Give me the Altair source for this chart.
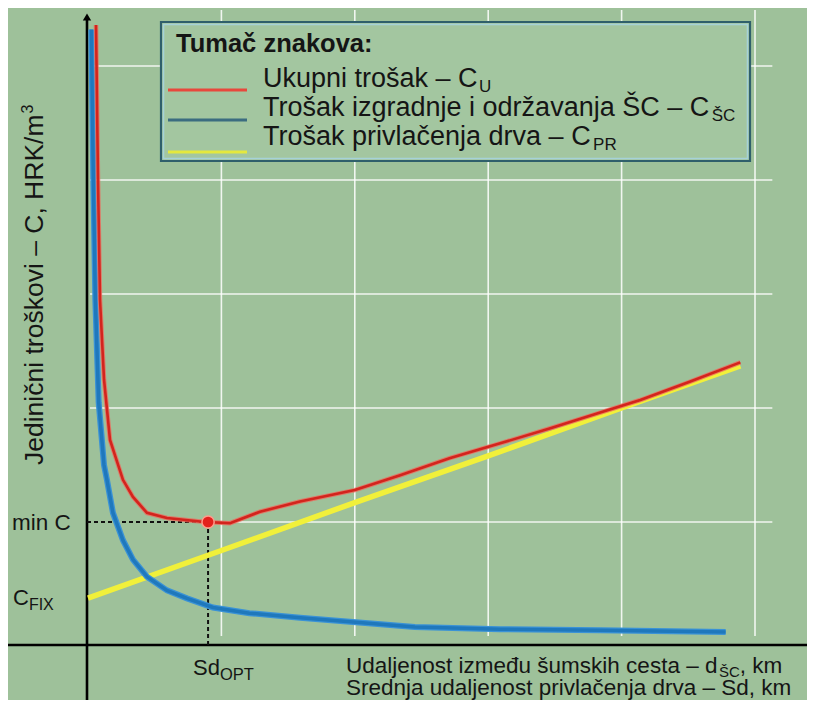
import altair as alt
import pandas as pd

# ---------------- data ----------------
# Trošak privlačenja drva - C_PR (straight line)
cpr_x = [0.0, 1.0, 2.0, 3.0, 4.0, 4.89]
cpr_y = [0.333, 0.75, 1.17, 1.58, 2.0, 2.37]

# Trošak izgradnje i održavanja ŠC - C_ŠC
csc_x = [0.025, 0.04, 0.055, 0.08, 0.12, 0.142, 0.187, 0.262, 0.337, 0.442,
         0.592, 0.742, 0.937, 1.21, 1.59, 2.45, 3.09, 3.84, 4.78]
csc_y = [5.32, 4.0, 2.95, 2.05, 1.5, 1.37, 1.08, 0.84, 0.67, 0.52,
         0.40, 0.33, 0.25, 0.20, 0.16, 0.08, 0.06, 0.05, 0.035]

# Ukupni trošak - C_U
cu_x = [0.06, 0.075, 0.09, 0.12, 0.165, 0.262, 0.337, 0.442, 0.592, 0.877,
        1.064, 1.289, 1.589, 2.0, 2.34, 2.71, 3.09, 3.46, 3.84, 4.14, 4.51, 4.89]
cu_y = [5.36, 4.0, 2.95, 2.25, 1.72, 1.37, 1.22, 1.08, 1.035, 1.0,
        0.99, 1.09, 1.18, 1.28, 1.41, 1.56, 1.69, 1.82, 1.96, 2.07, 2.23, 2.40]

# optimum
opt_x = [0.9]
opt_y = [1.0]

grid_x = [1, 2, 3, 4, 5]
grid_y = [1, 2, 3, 4, 5]

legend_title = "Tumač znakova:"
legend_main = ["Ukupni trošak – C", "Trošak izgradnje i održavanja ŠC – C", "Trošak privlačenja drva – C"]
legend_sub = ["U", "ŠC", "PR"]
legend_colors = ["#e8483c", "#3b6c80", "#e4e83e"]

ytitle_main = "Jedinični troškovi – C, HRK/m"
ytitle_sup = "3"
xtitle1 = ["Udaljenost između šumskih cesta – d", "ŠC", ", km"]
xtitle2 = "Srednja udaljenost privlačenja drva – Sd, km"

# ---------------- layout ----------------
W, H = 799, 692
OFF = 8
X0_PX, X_UNIT = 88.0, 133.4
Y0_PX, Y_UNIT = 636.0, 114.0
xdom = [(OFF - X0_PX) / X_UNIT, (OFF + W - X0_PX) / X_UNIT]
ydom = [(Y0_PX - OFF - H) / Y_UNIT, (Y0_PX - OFF) / Y_UNIT]


def dx(px):
    return (px - X0_PX) / X_UNIT


def dy(py):
    return (Y0_PX - py) / Y_UNIT


# Arial / Liberation Sans advance widths (1/1000 em)
AW = {' ': 278, ',': 278, ':': 278, '/': 278, '–': 556, '3': 556,
      'A': 667, 'B': 667, 'C': 722, 'D': 722, 'E': 667, 'F': 611, 'G': 778, 'H': 722,
      'I': 278, 'J': 500, 'K': 667, 'L': 556, 'M': 833, 'N': 722, 'O': 778, 'P': 667,
      'Q': 778, 'R': 722, 'S': 667, 'T': 611, 'U': 722, 'V': 667, 'W': 944, 'X': 667,
      'Y': 667, 'Z': 611, 'Š': 667,
      'a': 556, 'b': 556, 'c': 500, 'd': 556, 'e': 556, 'f': 278, 'g': 556, 'h': 556,
      'i': 222, 'j': 222, 'k': 500, 'l': 222, 'm': 833, 'n': 556, 'o': 556, 'p': 556,
      'q': 556, 'r': 333, 's': 500, 't': 278, 'u': 556, 'v': 500, 'w': 722, 'x': 500,
      'y': 500, 'z': 500, 'š': 500, 'č': 500, 'ž': 500, 'đ': 556}


def tw(s, size):
    return sum(AW.get(c, 556) for c in s) / 1000.0 * size


FONT = "Liberation Sans, Arial, Helvetica, sans-serif"
BG = "#9ec19a"

XS = alt.Scale(domain=xdom, nice=False, zero=False)
YS = alt.Scale(domain=ydom, nice=False, zero=False)


def X(f):
    return alt.X(f, type="quantitative", scale=XS, axis=None)


def Y(f):
    return alt.Y(f, type="quantitative", scale=YS, axis=None)


def text_layer(rows, **kw):
    df = pd.DataFrame(rows, columns=["t", "x", "y"])
    props = dict(align="left", baseline="alphabetic", font=FONT, color="#151515")
    props.update(kw)
    return alt.Chart(df).mark_text(**props).encode(x=X("x"), y=Y("y"), text="t:N")


layers = []

# grid (white)
gv = pd.DataFrame({"x": grid_x, "y": 0.0, "y2": dy(10)})
layers.append(alt.Chart(gv).mark_rule(color="white", strokeWidth=1.6, opacity=0.85).encode(
    x=X("x"), y=Y("y"), y2="y2"))
gh = pd.DataFrame({"y": grid_y, "x": [1.0 if g == 1 else 0.015 for g in grid_y], "x2": 5.13})
layers.append(alt.Chart(gh).mark_rule(color="white", strokeWidth=1.6, opacity=0.85).encode(
    y=Y("y"), x=X("x"), x2="x2"))

# legend box
box = pd.DataFrame({"x": [dx(161)], "x2": [dx(750)], "y": [dy(22)], "y2": [dy(161)]})
layers.append(alt.Chart(box).mark_rect(fill="#a3c6a0", stroke="#2f5f6b", strokeWidth=2.2).encode(
    x=X("x"), x2="x2", y=Y("y"), y2="y2"))
box_in = pd.DataFrame({"x": [dx(163.5)], "x2": [dx(747.5)], "y": [dy(24.5)], "y2": [dy(158.5)]})
layers.append(alt.Chart(box_in).mark_rect(fill=None, stroke="#a6d2d8", strokeWidth=1.6).encode(
    x=X("x"), x2="x2", y=Y("y"), y2="y2"))

# legend sample lines
leg_y_px = [90, 120, 152]
for col, ly in zip(legend_colors, leg_y_px):
    d = pd.DataFrame({"x": [dx(168)], "x2": [dx(247)], "y": [dy(ly)]})
    layers.append(alt.Chart(d).mark_rule(color=col, strokeWidth=3.2).encode(
        x=X("x"), x2="x2", y=Y("y")))

# legend texts
LEG_SIZE, LEG_SUB = 27, 17
layers.append(text_layer([(legend_title, dx(176), dy(52))], fontSize=25.5, fontWeight="bold"))
base_px = [87, 116, 145]
main_rows, sub_rows = [], []
for m, s, b in zip(legend_main, legend_sub, base_px):
    main_rows.append((m, dx(263), dy(b)))
    sub_rows.append((s, dx(263 + tw(m, LEG_SIZE) + 1.5), dy(b + 5)))
layers.append(text_layer(main_rows, fontSize=LEG_SIZE))
layers.append(text_layer(sub_rows, fontSize=LEG_SUB))

# black axes
ax_h = pd.DataFrame({"x": [xdom[0]], "x2": [xdom[1]], "y": [dy(645)]})
layers.append(alt.Chart(ax_h).mark_rule(color="black", strokeWidth=2.6).encode(
    x=X("x"), x2="x2", y=Y("y")))
ax_v = pd.DataFrame({"x": [dx(87)], "y": [ydom[0]], "y2": [dy(18)]})
layers.append(alt.Chart(ax_v).mark_rule(color="black", strokeWidth=2.6).encode(
    x=X("x"), y=Y("y"), y2="y2"))
arrow = pd.DataFrame({"x": [dx(87)], "y": [dy(17)]})
layers.append(alt.Chart(arrow).mark_point(shape="triangle-up", filled=True, size=70,
                                          color="black", opacity=1).encode(x=X("x"), y=Y("y")))

# dashed guide lines to the optimum
dh = pd.DataFrame({"x": [dx(87)], "x2": opt_x, "y": opt_y})
layers.append(alt.Chart(dh).mark_rule(color="#111", strokeWidth=2, strokeDash=[4, 3]).encode(
    x=X("x"), x2="x2", y=Y("y")))
dv = pd.DataFrame({"x": opt_x, "y": opt_y, "y2": [dy(645)]})
layers.append(alt.Chart(dv).mark_rule(color="#111", strokeWidth=2, strokeDash=[4, 3]).encode(
    x=X("x"), y=Y("y"), y2="y2"))

# curves
cpr = pd.DataFrame({"x": cpr_x, "y": cpr_y})
layers.append(alt.Chart(cpr).mark_line(color="#f1f03a", strokeWidth=5.5).encode(x=X("x"), y=Y("y")))
csc = pd.DataFrame({"x": csc_x, "y": csc_y})
layers.append(alt.Chart(csc).mark_line(color="#3a92d6", strokeWidth=6).encode(x=X("x"), y=Y("y")))
layers.append(alt.Chart(csc).mark_line(color="#1f78bc", strokeWidth=3.5).encode(x=X("x"), y=Y("y")))
cu = pd.DataFrame({"x": cu_x, "y": cu_y})
layers.append(alt.Chart(cu).mark_line(color="#ec6a5c", strokeWidth=4.5, opacity=0.8).encode(x=X("x"), y=Y("y")))
layers.append(alt.Chart(cu).mark_line(color="#d3241d", strokeWidth=2.6).encode(x=X("x"), y=Y("y")))

# optimum marker
opt = pd.DataFrame({"x": opt_x, "y": opt_y})
layers.append(alt.Chart(opt).mark_point(shape="circle", filled=True, size=150, color="#e3201c",
                                        stroke="#ff9a8a", strokeWidth=1.5, opacity=1).encode(
    x=X("x"), y=Y("y")))

# annotations
layers.append(text_layer([("min C", dx(12), dy(530))], fontSize=22.5))
layers.append(text_layer([("C", dx(13), dy(605))], fontSize=22))
layers.append(text_layer([("FIX", dx(13 + tw("C", 22)), dy(610))], fontSize=16))
layers.append(text_layer([("Sd", dx(193), dy(675))], fontSize=22))
layers.append(text_layer([("OPT", dx(193 + tw("Sd", 22)), dy(680))], fontSize=16.5))

# x titles
XT, XT_SUB = 22.5, 15
x1 = 346
p1 = x1 + tw(xtitle1[0], XT) + 1.5
p2 = p1 + tw(xtitle1[1], XT_SUB)
layers.append(text_layer([(xtitle1[0], dx(x1), dy(673)), (xtitle1[2], dx(p2), dy(673))], fontSize=XT))
layers.append(text_layer([(xtitle1[1], dx(p1), dy(677))], fontSize=XT_SUB))
layers.append(text_layer([(xtitle2, dx(346), dy(695))], fontSize=XT))

# y title (rotated)
YT, YT_SUP = 26.5, 16
ystart = 465
layers.append(text_layer([(ytitle_main, dx(43), dy(ystart))], fontSize=YT, angle=270))
layers.append(text_layer([(ytitle_sup, dx(43 - 10), dy(ystart - tw(ytitle_main, YT) - 1))],
                         fontSize=YT_SUP, angle=270))

chart = alt.layer(*layers).properties(
    width=W, height=H,
    autosize=alt.AutoSizeParams(type="none"),
    padding=0,
    background=BG,
).configure_view(stroke=None)

chart.save("out.html", embed_options={"renderer": "svg", "actions": False})
